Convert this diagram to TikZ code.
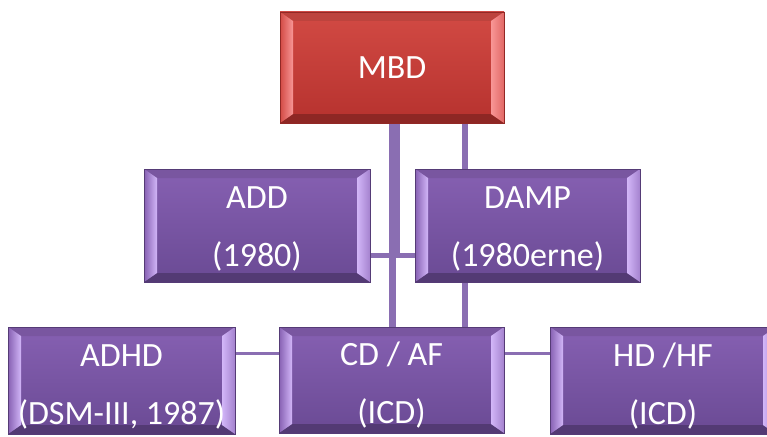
\documentclass[tikz,border=0pt]{standalone}
\usepackage{fontspec}
\setmainfont{Carlito}
\usetikzlibrary{calc,backgrounds}
\definecolor{redtop}{RGB}{210,74,68}
\definecolor{redbot}{RGB}{182,50,46}
\definecolor{redhi}{RGB}{248,150,150}
\definecolor{purtop}{RGB}{134,96,178}
\definecolor{purbot}{RGB}{106,74,148}
\definecolor{purhi}{RGB}{210,182,248}
\definecolor{conn}{RGB}{138,110,178}
\newcommand\bxfont{\fontsize{34}{58}\selectfont}
\newcommand\strutmid{\rule{0pt}{28pt}}
\newcommand\strutlow{\rule{0pt}{34pt}}
\tikzset{
  bevelbox/.style n args={3}{rectangle, inner sep=0pt, text=white, font=\bxfont, align=center,
    top color=#1, bottom color=#2, draw=#2!80!black, line width=0.6pt,
    path picture={
      \path (path picture bounding box.north west) coordinate (bnw)
            (path picture bounding box.north east) coordinate (bne)
            (path picture bounding box.south west) coordinate (bsw)
            (path picture bounding box.south east) coordinate (bse);
      \fill[#1!90!black] (bnw) -- (bne) -- ([xshift=-13pt,yshift=-9pt]bne) -- ([xshift=13pt,yshift=-9pt]bnw) -- cycle;
      \fill[#2!78!black] (bsw) -- (bse) -- ([xshift=-13pt,yshift=9pt]bse) -- ([xshift=13pt,yshift=9pt]bsw) -- cycle;
      \shade[left color=#1, right color=#3] (bnw) -- ([xshift=13pt,yshift=-9pt]bnw) -- ([xshift=13pt,yshift=9pt]bsw) -- (bsw) -- cycle;
      \shade[left color=#3, right color=#1!60!#3] (bne) -- ([xshift=-13pt,yshift=-9pt]bne) -- ([xshift=-13pt,yshift=9pt]bse) -- (bse) -- cycle;
    }},
  redbox/.style={bevelbox={redtop}{redbot}{redhi}},
  purbox/.style={bevelbox={purtop}{purbot}{purhi}},
  midrow/.style={purbox, minimum height=113pt},
  lowrow/.style={purbox, minimum height=107pt},
  link/.style={draw=conn}
}
\begin{document}
\begin{tikzpicture}[x=1pt,y=-1pt]
\useasboundingbox (0,0) rectangle (767,436);
\node[redbox, minimum width=224pt, minimum height=111pt] (MBD) at (392,67.5) {MBD};
\node[midrow, minimum width=226pt] (ADD) at (257,225.5) {\strutmid ADD\\(1980)};
\node[midrow, minimum width=225pt] (DAMP) at (527.5,225.5) {\strutmid DAMP\\(1980erne)};
\node[lowrow, minimum width=227pt] (ADHD) at (121.5,380.5) {\strutlow ADHD\\(DSM-III, 1987)};
\node[lowrow, minimum width=225pt, minimum height=106pt] (CDAF) at (391.5,380) {\strutlow CD / AF\\(ICD)};
\node[lowrow, minimum width=226pt] (HDHF) at (663,380.5) {\strutlow HD /HF\\(ICD)};
\coordinate (j) at (396.5,255);
\coordinate (r) at (465,0);
\coordinate (h) at (0,353.5);
\begin{scope}[on background layer]
  \fill[white] (0,0) rectangle (767,436);
  \draw[link, line width=7pt] (MBD.south) -- (MBD.south |- CDAF.north);
  \draw[link, line width=6pt] (MBD.south -| j) -- (j);
  \draw[link, line width=5pt] (ADD.east |- j) -- (DAMP.west |- j);
  \draw[link, line width=6pt] (MBD.south -| r) -- (DAMP.north -| r);
  \draw[link, line width=6pt] (DAMP.south -| r) -- (CDAF.north -| r);
  \draw[link, line width=3.5pt] (ADHD.east |- h) -- (CDAF.west |- h);
  \draw[link, line width=3.5pt] (CDAF.east |- h) -- (HDHF.west |- h);
\end{scope}
\end{tikzpicture}
\end{document}
